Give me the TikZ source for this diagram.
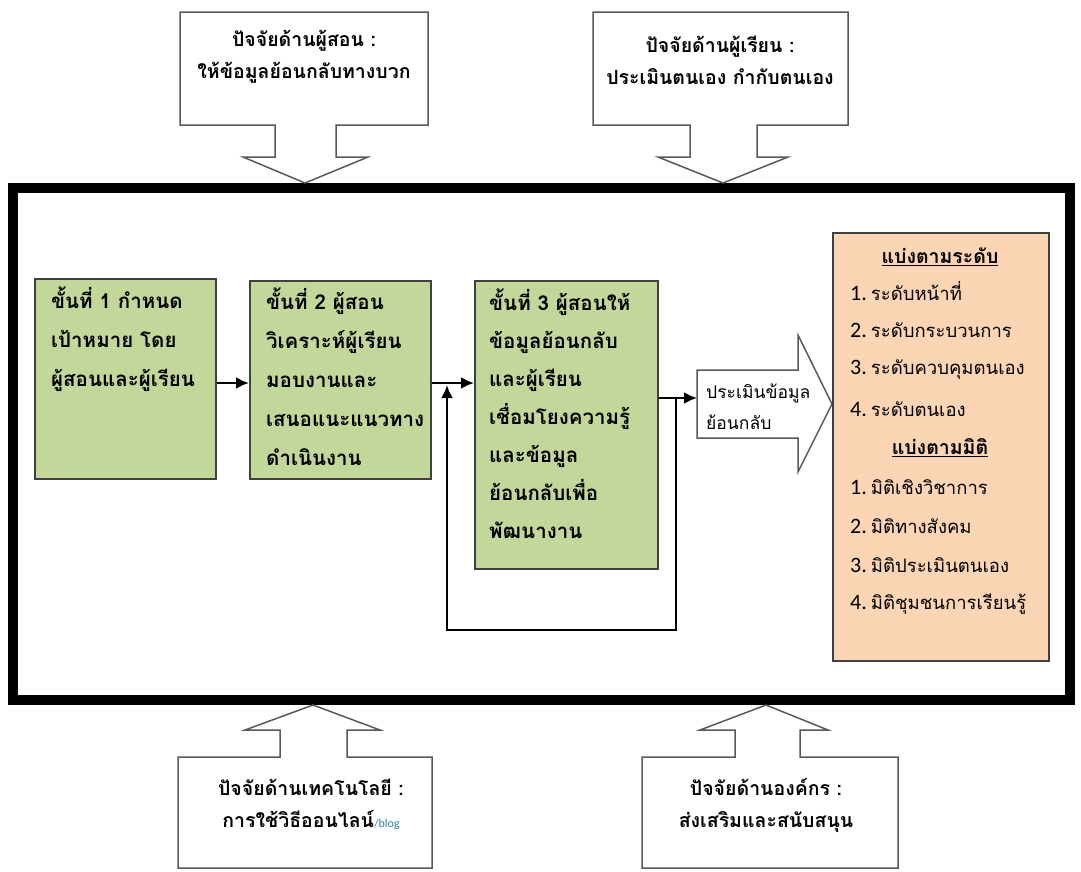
\documentclass[tikz,border=0pt]{standalone}
\usepackage{fontspec}
\newfontfamily\thai[Script=Thai]{Loma}
\newfontfamily\latn{Carlito}
\usetikzlibrary{arrows.meta,positioning,calc}
\definecolor{stepgreen}{RGB}{196,215,155}
\definecolor{levelpeach}{RGB}{252,213,181}
\definecolor{boxedge}{RGB}{64,64,64}
\definecolor{blogteal}{RGB}{49,133,156}

\begin{document}
\begin{tikzpicture}[x=1pt, y=-1pt,
    stepbox/.style={draw=boxedge, line width=1.5pt, fill=stepgreen, anchor=north west},
    steptext/.style={anchor=north west, align=left, inner sep=0pt, font=\thai\bfseries\fontsize{20.5}{39}\selectfont},
    levelbox/.style={draw=boxedge, line width=1.5pt, fill=levelpeach, anchor=north west},
    levelhead/.style={font=\thai\bfseries\fontsize{19.5}{20}\selectfont},
    levelitem/.style={anchor=west, inner sep=0pt, font=\thai\fontsize{18.5}{20}\selectfont},
    callout/.style={draw=gray!70!black, line width=1.5pt, fill=white, line join=miter},
    callouttext/.style={align=center, font=\thai\bfseries\fontsize{19.5}{32}\selectfont},
    flow/.style={-{Latex[length=13pt,width=12pt]}, line width=2.5pt, line join=miter},
    outerframe/.style={line width=10pt}
]
\useasboundingbox (0,0) rectangle (1081,871);

% Outer frame
\draw[outerframe] (13,188) rectangle (1070,700);

% Factor callouts (top)
\draw[callout] (180,12) -- (428,12) -- (428,125) -- (336,125) -- (336,157) -- (368,157)
  -- (305,183) -- (243,157) -- (275,157) -- (275,125) -- (180,125) -- cycle;
\node[callouttext] (teacher) at (304,57) {ปัจจัยด้านผู้สอน :\\ให้ข้อมูลย้อนกลับทางบวก};

\draw[callout] (593,12) -- (848,12) -- (848,125) -- (757,125) -- (757,157) -- (788,157)
  -- (723,183) -- (658,157) -- (690,157) -- (690,125) -- (593,125) -- cycle;
\node[callouttext] (learner) at (720,60) {ปัจจัยด้านผู้เรียน :\\ประเมินตนเอง กำกับตนเอง};

% Factor callouts (bottom)
\draw[callout] (178,868) -- (432,868) -- (432,757) -- (347,757) -- (347,730) -- (380,730)
  -- (313,705) -- (245,730) -- (280,730) -- (280,757) -- (178,757) -- cycle;
\node[callouttext] (tech) at (311,804) {ปัจจัยด้านเทคโนโลยี :\\การใช้วิธีออนไลน์{\latn\mdseries\fontsize{12}{12}\selectfont\color{blogteal}/blog}};

\draw[callout] (642,868) -- (898,868) -- (898,757) -- (800,757) -- (800,730) -- (828,730)
  -- (766,705) -- (700,730) -- (735,730) -- (735,757) -- (642,757) -- cycle;
\node[callouttext] (org) at (766,805) {ปัจจัยด้านองค์กร :\\ส่งเสริมและสนับสนุน};

% Steps
\node[stepbox, minimum width=181pt, minimum height=200pt] (s1) at (34,278) {};
\node[stepbox, minimum width=181pt, minimum height=198pt] (s2) at (249,280) {};
\node[stepbox, minimum width=183pt, minimum height=288pt] (s3) at (474,280) {};

\node[steptext] (t1) at ([shift={(17,9)}]s1.north west) {ขั้นที่ 1 กำหนด\\เป้าหมาย โดย\\ผู้สอนและผู้เรียน};
\node[steptext] (t2) at ([shift={(17,8)}]s2.north west) {ขั้นที่ 2 ผู้สอน\\วิเคราะห์ผู้เรียน\\มอบงานและ\\เสนอแนะแนวทาง\\ดำเนินงาน};
\node[steptext, font=\thai\bfseries\fontsize{20.5}{38}\selectfont] (t3) at ([shift={(15,9)}]s3.north west)
  {ขั้นที่ 3 ผู้สอนให้\\ข้อมูลย้อนกลับ\\และผู้เรียน\\เชื่อมโยงความรู้\\และข้อมูล\\ย้อนกลับเพื่อ\\พัฒนางาน};

% Flow arrows
\coordinate (j12) at (0,383);
\draw[flow] (s1.east |- j12) -- (s2.west |- j12);
\draw[flow] (s2.east |- j12) -- (s3.west |- j12);

% Evaluation arrow
\coordinate (evalin) at (697,398);
\draw[callout] (697,370) -- (798,370) -- (798,335) -- (832,404) -- (798,472) -- (798,438)
  -- (697,438) -- cycle;
\node[anchor=west, align=left, inner sep=0pt, font=\thai\fontsize{17.5}{31}\selectfont] (evaltext) at (706,407) {ประเมินข้อมูล\\ย้อนกลับ};
\draw[flow] (s3.east |- evalin) -- (evalin);

% Feedback loop
\coordinate (loopr) at (676,398);
\coordinate (loopbr) at (676,630);
\coordinate (loopbl) at (447,630);
\coordinate (loopup) at (447,385);
\draw[flow] (loopr) -- (loopbr) -- (loopbl) -- (loopup);

% Levels and dimensions
\node[levelbox, minimum width=216pt, minimum height=428pt] (lv) at (832,232) {};
\node[levelhead] (h1) at (940,257) {\underline{แบ่งตามระดับ}};
\node[levelhead] (h2) at (940,448) {\underline{แบ่งตามมิติ}};
\foreach \y/\n/\t [count=\i] in {291/1/ระดับหน้าที่, 330/2/ระดับกระบวนการ, 370/3/ระดับควบคุมตนเอง, 409/4/ระดับตนเอง,
    487/1/มิติเชิงวิชาการ, 526/2/มิติทางสังคม, 565/3/มิติประเมินตนเอง, 604/4/มิติชุมชนการเรียนรู้} {
  \node[levelitem] (l\i) at (850,\y) {{\latn\fontsize{22}{22}\selectfont\n.}\hspace{4pt}\t};
}

\end{tikzpicture}
\end{document}
